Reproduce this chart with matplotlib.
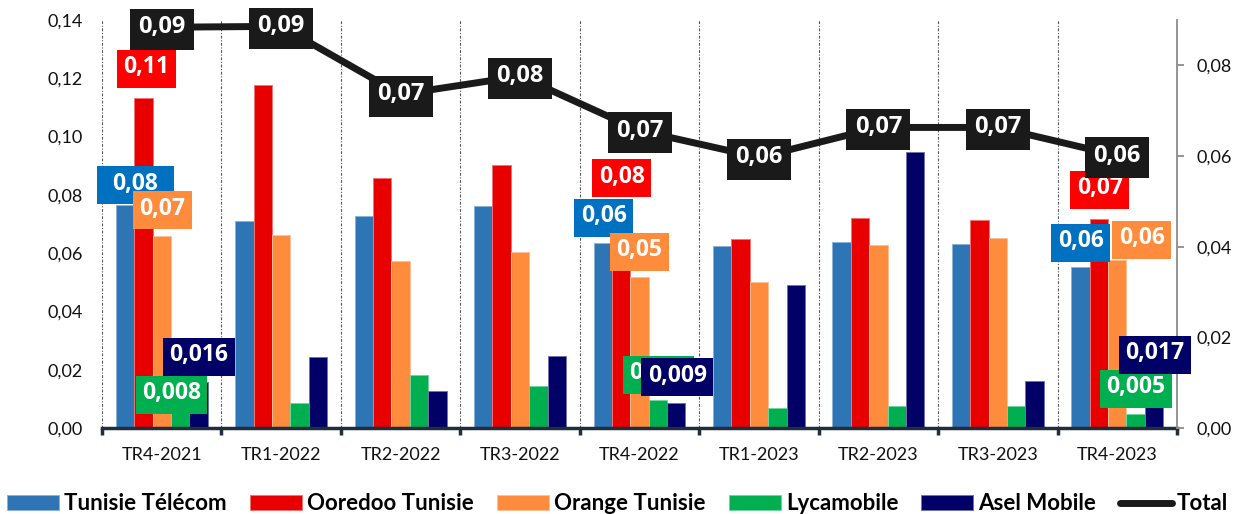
import matplotlib
matplotlib.use('Agg')
import matplotlib.pyplot as plt
import numpy as np
from matplotlib.path import Path
from matplotlib.ticker import FuncFormatter, FixedLocator
from matplotlib.lines import Line2D
from matplotlib.patches import Patch

categories = ['TR4-2021', 'TR1-2022', 'TR2-2022', 'TR3-2022', 'TR4-2022',
              'TR1-2023', 'TR2-2023', 'TR3-2023', 'TR4-2023']
tunisie_telecom = [0.0766, 0.0712, 0.0727, 0.0761, 0.0636, 0.0623, 0.0637, 0.0630, 0.0551]
ooredoo = [0.1131, 0.1177, 0.0857, 0.0901, 0.0755, 0.0649, 0.0719, 0.0715, 0.0717]
orange = [0.0659, 0.0661, 0.0573, 0.0605, 0.0518, 0.0500, 0.0628, 0.0651, 0.0576]
lycamobile = [0.0080, 0.0087, 0.0181, 0.0143, 0.0096, 0.0068, 0.0077, 0.0077, 0.0048]
asel = [0.0157, 0.0243, 0.0127, 0.0246, 0.0086, 0.0492, 0.0948, 0.0161, 0.0168]
total = [0.0884, 0.0886, 0.0736, 0.0776, 0.0656, 0.0597, 0.0663, 0.0663, 0.0601]
series_names = ['Tunisie Télécom', 'Ooredoo Tunisie', 'Orange Tunisie', 'Lycamobile', 'Asel Mobile']
left_ticks = [0.00, 0.02, 0.04, 0.06, 0.08, 0.10, 0.12, 0.14]
right_ticks = [0.00, 0.02, 0.04, 0.06, 0.08]
labelled_groups = [0, 4, 8]

bar_colors = ['#2E75B6', '#E80000', '#FF8B3D', '#00B050', '#000066']
label_colors = ['#0070C0', '#FF0000', '#FF8B3D', '#00B050', '#000066']
decimals = [2, 2, 2, 3, 3]
# label offsets in pixels (dx, dy up) per labelled group, per series
offsets = {
    0: [(10.5, 21), (3, 31), (0.5, 27), (-8.5, 11.6), (0.5, 27)],
    4: [(1, 26.6), (0.6, 31), (0, 27), (0.8, 27), (0.9, 27)],
    8: [(0.4, 26.4), (1, 31), (24.6, 22), (0.2, 27), (0.8, 26)],
}
box_widths = {
    0: [77, 59, 59, 71.5, 71.5],
    4: [59, 59, 59, 71.5, 71.5],
    8: [59, 59, 59, 71.5, 71.5],
}

W, H = 1237, 514
DPI = 100
PT = 72.0 / DPI


def fixed_box(w, h, dy=0.0):
    def box(x0, y0, width, height, mutation_size):
        cx = x0 + width / 2.0
        cy = y0 + height / 2.0 + dy
        verts = [(cx - w / 2, cy - h / 2), (cx + w / 2, cy - h / 2),
                 (cx + w / 2, cy + h / 2), (cx - w / 2, cy + h / 2),
                 (cx - w / 2, cy - h / 2)]
        return Path(verts, closed=True)
    return box


def fmt(v, d):
    return f"{v:.{d}f}".replace('.', ',')


fig = plt.figure(figsize=(W / DPI, H / DPI), dpi=DPI)
ax = fig.add_axes([102 / W, 86 / H, 1075 / W, 408 / H])
ax2 = ax.twinx()

x = np.arange(len(categories))
bw = 0.154
data = [tunisie_telecom, ooredoo, orange, lycamobile, asel]


def lighten(c, f=0.45):
    import matplotlib.colors as mc
    r, g, b = mc.to_rgb(c)
    return (r + (1 - r) * f, g + (1 - g) * f, b + (1 - b) * f)


for i, (vals, col) in enumerate(zip(data, bar_colors)):
    ax.bar(x + (i - 2) * bw, vals, bw, color=col, edgecolor=lighten(col),
           linewidth=0.7, zorder=2)

ax.set_xlim(-0.5, 8.5)
ax.set_ylim(0, 0.14)
ax2.set_ylim(0, 0.09)

ax.set_axisbelow(True)
for s in ['top', 'left', 'right']:
    ax.spines[s].set_visible(False)
ax.spines['bottom'].set_color('#1F2D3D')
ax.spines['bottom'].set_linewidth(2.5)
for s in ['top', 'left', 'bottom']:
    ax2.spines[s].set_visible(False)
ax2.spines['right'].set_color('#8C8C8C')
ax2.spines['right'].set_linewidth(1.3)

ax.set_yticks(left_ticks)
ax.yaxis.set_major_formatter(FuncFormatter(lambda v, p: fmt(v, 2)))
ax.tick_params(axis='y', length=0, pad=14, labelsize=13, labelcolor='#111111')
for t in ax.get_yticklabels():
    t.set_family('Lato')

ax2.set_yticks(right_ticks)
ax2.yaxis.set_major_formatter(FuncFormatter(lambda v, p: fmt(v, 2)))
ax2.tick_params(axis='y', length=5, width=1.3, color='#8C8C8C', pad=9,
                labelsize=13, labelcolor='#111111')
for t in ax2.get_yticklabels():
    t.set_family('Lato')

ax.set_xticks(x)
ax.set_xticklabels(categories, family='Lato', fontsize=13, color='#111111')
ax.xaxis.set_minor_locator(FixedLocator(np.arange(-0.5, 9, 1.0)))
ax.tick_params(axis='x', which='major', length=0, pad=14)
ax.tick_params(axis='x', which='minor', length=5, width=2.5, color='#1F2D3D')
ax.grid(True, which='minor', axis='x', linestyle=(0, (2.5, 1.5, 1, 1.5)),
        color='#555555', linewidth=0.8)

ax2.plot(x, total, color='#1A1A1A', linewidth=5, zorder=3, solid_capstyle='butt')

# coloured data labels
for g in labelled_groups:
    for i in range(5):
        v = data[i][g]
        txt = fmt(v, decimals[i])
        dx, dy = offsets[g][i]
        w = box_widths[g][i]
        ax2.annotate(txt, xy=(x[g] + (i - 2) * bw, v), xycoords=ax.transData,
                     xytext=(dx * PT, dy * PT), textcoords='offset points',
                     ha='center', va='center', fontsize=16.5, fontweight='bold',
                     family='Open Sans', color='white', zorder=4,
                     bbox=dict(boxstyle=fixed_box(w, 38, -1.5), fc=label_colors[i], ec='none'))

# total labels
for g in range(len(categories)):
    ax2.annotate(fmt(total[g], 2), xy=(x[g], total[g]), xycoords='data',
                 ha='center', va='center', fontsize=17, fontweight='bold',
                 family='Open Sans', color='white', zorder=6, annotation_clip=False,
                 bbox=dict(boxstyle=fixed_box(64, 41, -2), fc='#1A1A1A', ec='none'))

handles = [Patch(facecolor=c, edgecolor=lighten(c), linewidth=0.7) for c in bar_colors]
handles.append(Line2D([0], [0], color='#1A1A1A', linewidth=5, solid_capstyle='round'))
labels = series_names + ['Total']
fig.legend(handles, labels, loc='center', bbox_to_anchor=(617.5 / W, 1 - 504 / H),
           ncol=6, frameon=False, prop={'family': 'Lato', 'weight': 'bold', 'size': 16},
           handlelength=2.34, handleheight=0.63, handletextpad=0.23, columnspacing=1.04,
           borderaxespad=0, borderpad=0)

fig.savefig('out.png', dpi=DPI)
